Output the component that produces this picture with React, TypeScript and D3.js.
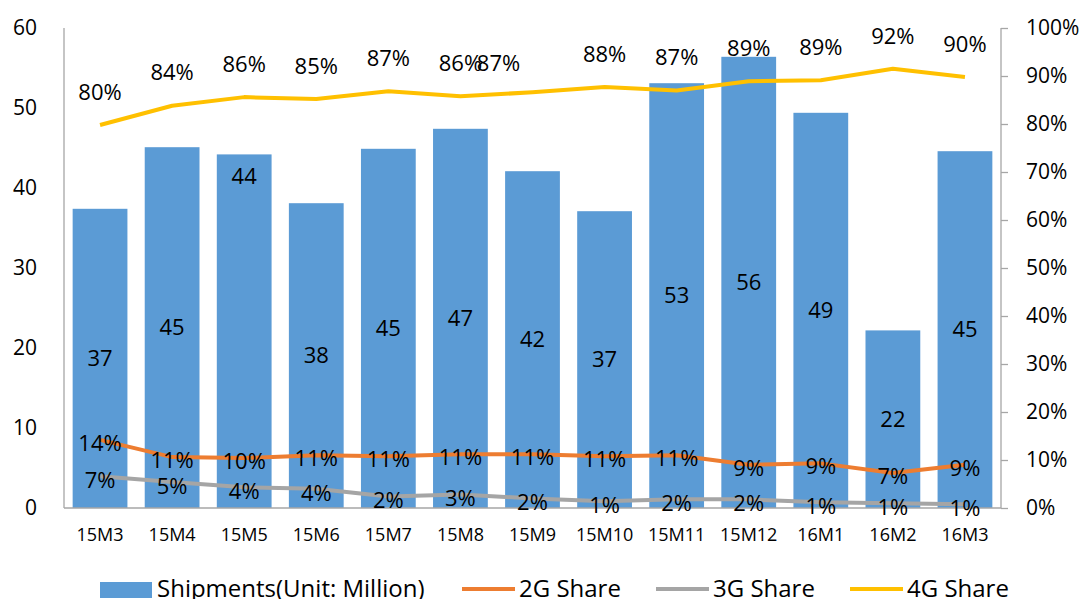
import * as d3 from "d3";
import React, { useEffect, useRef } from "react";

const months = ["15M3", "15M4", "15M5", "15M6", "15M7", "15M8", "15M9", "15M10", "15M11", "15M12", "16M1", "16M2", "16M3"];
const shipments = [37.4, 45.1, 44.2, 38.1, 44.9, 47.4, 42.1, 37.1, 53.1, 56.4, 49.4, 22.2, 44.6];
const shipmentLabels = [37, 45, 44, 38, 45, 47, 42, 37, 53, 56, 49, 22, 45];
const share2G = [0.142, 0.106, 0.104, 0.11, 0.108, 0.112, 0.112, 0.108, 0.11, 0.09, 0.093, 0.073, 0.09];
const share3G = [0.066, 0.054, 0.043, 0.04, 0.024, 0.028, 0.02, 0.014, 0.018, 0.018, 0.012, 0.01, 0.008];
const share4G = [0.798, 0.838, 0.856, 0.852, 0.868, 0.858, 0.866, 0.877, 0.87, 0.889, 0.891, 0.915, 0.898];
const leftTicks = [0, 10, 20, 30, 40, 50, 60];
const rightTicks = [0, 0.1, 0.2, 0.3, 0.4, 0.5, 0.6, 0.7, 0.8, 0.9, 1];

const FONT = "'Open Sans', 'Noto Sans', sans-serif";

const Chart = () => {
  const node = useRef<SVGSVGElement>(null);
  useEffect(() => {
    const width = 1088;
    const height = 599;
    const left = 64;
    const right = 1001;
    const top = 28;
    const bottom = 508;
    const svg = d3.select(node.current).attr("width", width).attr("height", height);
    svg.selectAll("*").remove();

    const x = d3.scaleBand().domain(months).range([left, right]).paddingInner(0.24).paddingOuter(0.12);
    const y = d3.scaleLinear().domain([0, 60]).range([bottom, top]);
    const yr = d3.scaleLinear().domain([0, 1]).range([bottom, top]);
    const cx = (m) => x(m) + x.bandwidth() / 2;
    const pct = d3.format(".0%");

    // bars
    svg
      .append("g")
      .selectAll("rect")
      .data(shipments)
      .join("rect")
      .attr("x", (d, i) => x(months[i]))
      .attr("y", (d) => y(d))
      .attr("width", x.bandwidth())
      .attr("height", (d) => bottom - y(d))
      .attr("fill", "#5b9bd5");

    // axes
    const axisColor = "#a6a6a6";
    svg.append("line").attr("x1", left).attr("x2", left).attr("y1", top).attr("y2", bottom).attr("stroke", axisColor).attr("stroke-width", 1.3);
    svg.append("line").attr("x1", left).attr("x2", right).attr("y1", bottom).attr("y2", bottom).attr("stroke", axisColor).attr("stroke-width", 1.3);

    const gl = svg.append("g").attr("transform", `translate(${left},0)`).call(d3.axisLeft(y).tickValues(leftTicks).tickSize(0).tickPadding(27));
    gl.select(".domain").remove();
    gl.selectAll("text").attr("font-family", FONT).attr("font-size", 21).attr("fill", "#000");

    const gr = svg
      .append("g")
      .attr("transform", `translate(${right},0)`)
      .call(d3.axisRight(yr).tickValues(rightTicks).tickSize(7).tickPadding(18).tickFormat(pct));
    gr.select(".domain").attr("stroke", axisColor).attr("stroke-width", 1.3).attr("d", `M0,${top}V${bottom}`);
    gr.selectAll("line").attr("stroke", axisColor).attr("stroke-width", 1.3);
    gr.selectAll("text").attr("font-family", FONT).attr("font-size", 21).attr("fill", "#000");

    const gb = svg.append("g").attr("transform", `translate(0,${bottom})`).call(d3.axisBottom(x).tickSize(0).tickPadding(20));
    gb.select(".domain").remove();
    gb.selectAll("text").attr("font-family", FONT).attr("font-size", 18).attr("fill", "#000");

    // bar labels
    svg
      .append("g")
      .selectAll("text")
      .data(shipmentLabels)
      .join("text")
      .attr("x", (d, i) => cx(months[i]))
      .attr("y", (d, i) => (months[i] === "15M5" ? y(shipments[i]) + 22 : (y(shipments[i]) + bottom) / 2))
      .attr("dy", "0.35em")
      .attr("text-anchor", "middle")
      .attr("font-family", FONT)
      .attr("font-size", 22)
      .text((d) => d);

    // lines
    const series = [
      { data: share2G, color: "#ed7d31", dy: 3 },
      { data: share3G, color: "#a5a5a5", dy: 4 },
      { data: share4G, color: "#ffc000", dy: -33 },
    ];
    const line = d3
      .line<number>()
      .x((d, i) => cx(months[i]))
      .y((d) => yr(d));
    series.forEach((s) => {
      svg
        .append("path")
        .datum(s.data)
        .attr("fill", "none")
        .attr("stroke", s.color)
        .attr("stroke-width", 4)
        .attr("stroke-linejoin", "round")
        .attr("d", line);
    });
    series.forEach((s) => {
      svg
        .append("g")
        .selectAll("text")
        .data(s.data)
        .join("text")
        .attr("x", (d, i) => cx(months[i]) + (s.data === share4G && months[i] === "15M9" ? -34 : 0))
        .attr("y", (d, i) => yr(d) + s.dy + (s.data === share4G && months[i] === "15M9" ? 4 : 0))
        .attr("dy", "0.35em")
        .attr("text-anchor", "middle")
        .attr("font-family", FONT)
        .attr("font-size", 22)
        .text((d) => pct(d));
    });

    // legend
    const legend = svg.append("g").attr("transform", "translate(0,589)");
    const items = [
      { name: "Shipments(Unit: Million)", color: "#5b9bd5", bar: true, x: 100 },
      { name: "2G Share", color: "#ed7d31", bar: false, x: 462 },
      { name: "3G Share", color: "#a5a5a5", bar: false, x: 656 },
      { name: "4G Share", color: "#ffc000", bar: false, x: 850 },
    ];
    items.forEach((it) => {
      if (it.bar) {
        legend.append("rect").attr("x", it.x).attr("y", -7).attr("width", 52).attr("height", 16).attr("fill", it.color);
      } else {
        legend.append("line").attr("x1", it.x).attr("x2", it.x + 53).attr("y1", 0).attr("y2", 0).attr("stroke", it.color).attr("stroke-width", 4);
      }
      legend
        .append("text")
        .attr("x", it.x + 57)
        .attr("y", 0)
        .attr("dy", "0.35em")
        .attr("font-family", FONT)
        .attr("font-size", 24)
        .text(it.name);
    });
  }, []);
  return <svg ref={node} style={{ position: "absolute", left: 0, top: 0, display: "block", background: "#fff" }}></svg>;
};

export default function App() {
  return <Chart />;
}
